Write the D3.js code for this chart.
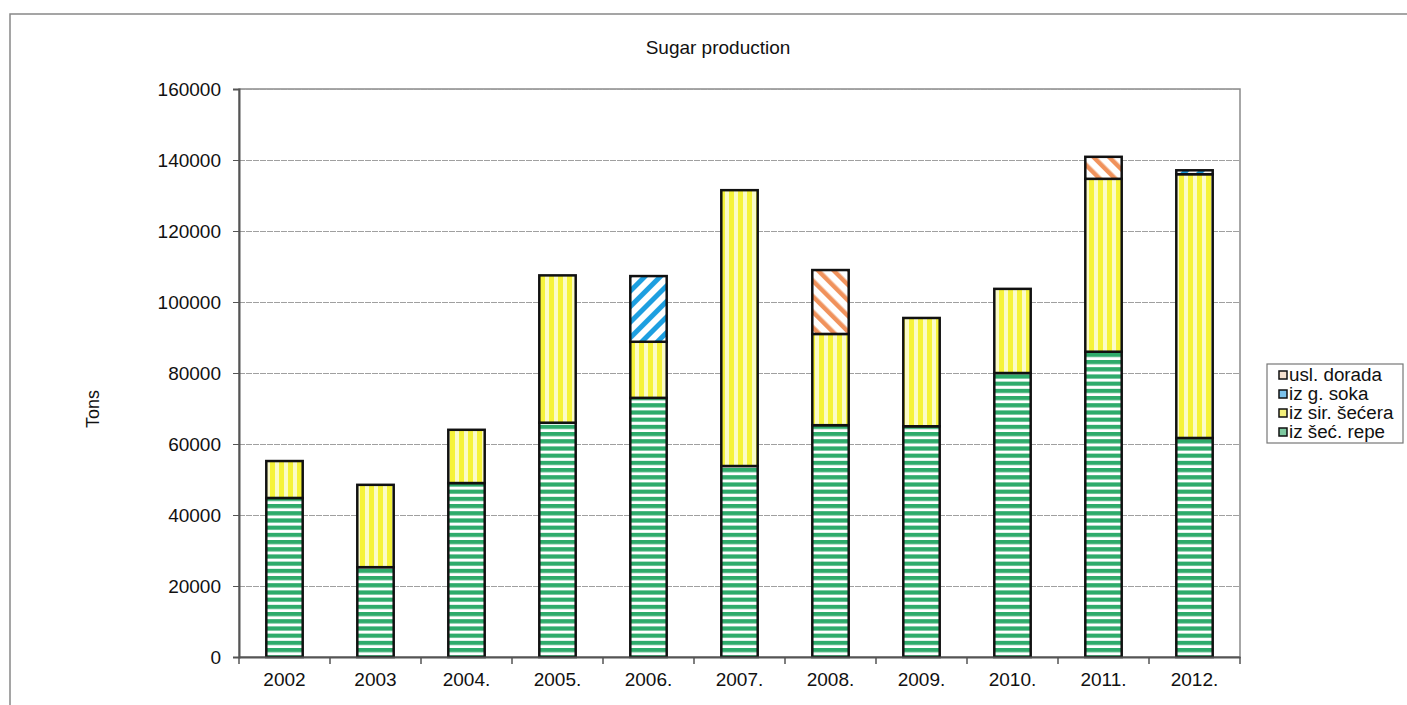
<!DOCTYPE html>
<html>
<head>
<meta charset="utf-8">
<script src="https://cdn.jsdelivr.net/npm/d3@7"></script>
<style>
  body { margin: 0; background: #fff; }
  text { font-family: "Liberation Sans", Arial, sans-serif; fill: #111; }
</style>
</head>
<body>
<script>
// Sugar production, stacked bars (tons)
const years = ["2002", "2003", "2004.", "2005.", "2006.", "2007.", "2008.", "2009.", "2010.", "2011.", "2012."];
const izSecRepe   = [44800, 25300, 49000, 66000, 73000, 53800, 65300, 65000, 80000, 86000, 61700];
const izSirSecera = [10400, 23200, 15000, 41500, 15800, 77700, 25700, 30500, 23700, 48700, 74300];
const izGSoka     = [0, 0, 0, 0, 18500, 0, 0, 0, 0, 0, 1100];
const uslDorada   = [0, 0, 0, 0, 0, 0, 18000, 0, 0, 6200, 0];
const seriesNames = ["iz šeć. repe", "iz sir. šećera", "iz g. soka", "usl. dorada"];
const yTicks = [0, 20000, 40000, 60000, 80000, 100000, 120000, 140000, 160000];

const WIDTH = 1407, HEIGHT = 705;
const PLOT = {left: 239, right: 1240, top: 89, bottom: 657};

const svg = d3.select("body").append("svg")
    .attr("width", WIDTH)
    .attr("height", HEIGHT);

// patterns
const defs = svg.append("defs");
const pGreen = defs.append("pattern").attr("id", "p-green")
    .attr("patternUnits", "userSpaceOnUse").attr("width", 8).attr("height", 7.2);
pGreen.append("rect").attr("width", 8).attr("height", 7.2).attr("fill", "#fff");
pGreen.append("rect").attr("y", 0).attr("width", 8).attr("height", 4.2).attr("fill", "#2eab6b");

const pYellow = defs.append("pattern").attr("id", "p-yellow")
    .attr("patternUnits", "userSpaceOnUse").attr("width", 9).attr("height", 8);
pYellow.append("rect").attr("width", 9).attr("height", 8).attr("fill", "#fbfbc8");
pYellow.append("rect").attr("x", 0).attr("width", 5).attr("height", 8).attr("fill", "#f6f33a");

const pBlue = defs.append("pattern").attr("id", "p-blue")
    .attr("patternUnits", "userSpaceOnUse").attr("width", 11).attr("height", 11)
    .attr("patternTransform", "rotate(45)");
pBlue.append("rect").attr("width", 11).attr("height", 11).attr("fill", "#fff");
pBlue.append("rect").attr("width", 5).attr("height", 11).attr("fill", "#1d9fe0");

const pOrange = defs.append("pattern").attr("id", "p-orange")
    .attr("patternUnits", "userSpaceOnUse").attr("width", 11).attr("height", 11)
    .attr("patternTransform", "rotate(-45)");
pOrange.append("rect").attr("width", 11).attr("height", 11).attr("fill", "#fff");
pOrange.append("rect").attr("width", 4.5).attr("height", 11).attr("fill", "#f0925c");

const fills = ["url(#p-green)", "url(#p-yellow)", "url(#p-blue)", "url(#p-orange)"];
const swatchFills = ["#7ec9a0", "#f4f07a", "#7cc2ea", "#f6e2cf"];

// outer frame (cut off right/bottom like the scan)
svg.append("rect")
    .attr("x", 10).attr("y", 14)
    .attr("width", 1500).attr("height", 800)
    .attr("fill", "none").attr("stroke", "#888").attr("stroke-width", 1.5);

// title
svg.append("text")
    .attr("x", 718).attr("y", 54)
    .attr("text-anchor", "middle")
    .style("font-size", "19px")
    .text("Sugar production");

// scales
const x = d3.scaleBand()
    .domain(years)
    .range([PLOT.left, PLOT.right])
    .paddingInner(0.6)
    .paddingOuter(0.3);

const y = d3.scaleLinear()
    .domain([0, 160000])
    .range([PLOT.bottom, PLOT.top]);

// plot frame
svg.append("rect")
    .attr("x", PLOT.left).attr("y", PLOT.top)
    .attr("width", PLOT.right - PLOT.left).attr("height", PLOT.bottom - PLOT.top)
    .attr("fill", "none").attr("stroke", "#8a8a8a").attr("stroke-width", 1.5);

// gridlines
const grid = svg.append("g")
    .attr("transform", `translate(${PLOT.left},0)`)
    .call(d3.axisLeft(y).tickValues(yTicks).tickSize(-(PLOT.right - PLOT.left)).tickFormat(""));
grid.select(".domain").remove();
grid.selectAll("line").attr("stroke", "#a0a0a0").attr("stroke-width", 1).attr("stroke-dasharray", "6,1");

// stacked data
const table = years.map((yr, i) => ({
    year: yr,
    s0: izSecRepe[i], s1: izSirSecera[i], s2: izGSoka[i], s3: uslDorada[i]
}));
const stack = d3.stack().keys(["s0", "s1", "s2", "s3"])(table);

svg.append("g").selectAll("g")
    .data(stack)
    .join("g")
    .attr("fill", (d, i) => fills[i])
    .selectAll("rect")
    .data(d => d.filter(v => v[1] - v[0] > 0))
    .join("rect")
    .attr("x", d => x(d.data.year))
    .attr("width", x.bandwidth())
    .attr("y", d => y(d[1]))
    .attr("height", d => y(d[0]) - y(d[1]))
    .attr("stroke", "#111")
    .attr("stroke-width", 2.5);

// y axis
const yAxis = svg.append("g")
    .attr("transform", `translate(${PLOT.left},0)`)
    .call(d3.axisLeft(y).tickValues(yTicks).tickSize(6).tickPadding(12).tickFormat(d3.format("d")));
yAxis.select(".domain").attr("stroke", "#555").attr("stroke-width", 2);
yAxis.selectAll("line").attr("stroke", "#555");
yAxis.selectAll("text").style("font-size", "19px").style("font-family", "Liberation Sans, Arial, sans-serif").attr("fill", "#111");

// x axis
const xAxis = svg.append("g")
    .attr("transform", `translate(0,${PLOT.bottom})`)
    .call(d3.axisBottom(x).tickSize(0).tickPadding(16));
xAxis.select(".domain").attr("stroke", "#555").attr("stroke-width", 2);
xAxis.selectAll("text").style("font-size", "19px").style("font-family", "Liberation Sans, Arial, sans-serif").attr("fill", "#111");
xAxis.selectAll(".bound")
    .data(d3.range(years.length + 1))
    .join("line")
    .attr("class", "bound")
    .attr("x1", i => PLOT.left + i * x.step())
    .attr("x2", i => PLOT.left + i * x.step())
    .attr("y1", 0).attr("y2", 7)
    .attr("stroke", "#555").attr("stroke-width", 1.5);

// y title
svg.append("text")
    .attr("transform", "translate(99,409) rotate(-90)")
    .attr("text-anchor", "middle")
    .style("font-size", "18px")
    .text("Tons");

// legend
const legend = svg.append("g").attr("transform", "translate(1267,364)");
legend.append("rect")
    .attr("width", 136).attr("height", 79)
    .attr("fill", "#fff").attr("stroke", "#777").attr("stroke-width", 1.2);
const order = [3, 2, 1, 0];
const items = legend.selectAll(".item")
    .data(order)
    .join("g")
    .attr("class", "item")
    .attr("transform", (d, i) => `translate(0,${11 + i * 19})`);
items.append("rect")
    .attr("x", 12).attr("y", -4)
    .attr("width", 8).attr("height", 8)
    .attr("fill", d => swatchFills[d])
    .attr("stroke", "#111").attr("stroke-width", 1.5);
items.append("text")
    .attr("x", 22).attr("y", 6)
    .style("font-size", "18.8px")
    .text(d => seriesNames[d]);
</script>
</body>
</html>
